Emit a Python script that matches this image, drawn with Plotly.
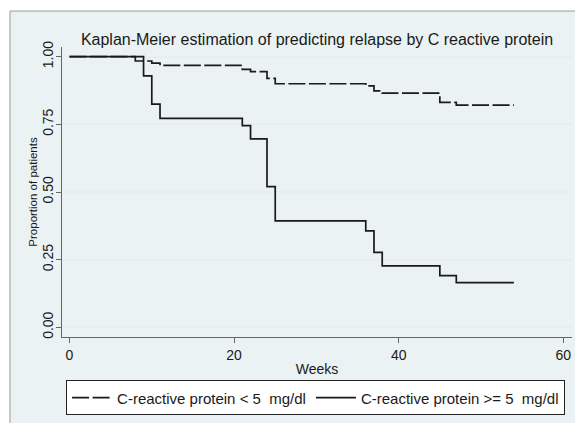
import plotly.graph_objects as go

# Data
weeks_low = [0, 8, 10, 11, 21, 22, 24, 25, 36, 37, 38, 45, 47, 54]
surv_low = [1.0, 0.984, 0.976, 0.968, 0.953, 0.945, 0.920, 0.900, 0.892, 0.874, 0.865, 0.831, 0.821, 0.821]

weeks_high = [0, 9, 10, 11, 21, 22, 24, 25, 36, 37, 38, 45, 47, 54]
surv_high = [1.0, 0.929, 0.825, 0.772, 0.745, 0.696, 0.520, 0.393, 0.356, 0.277, 0.227, 0.191, 0.165, 0.165]

name_low = "C-reactive protein &lt; 5\u00a0 mg/dl"
name_high = "C-reactive protein &gt;= 5\u00a0 mg/dl"

x_ticks = [0, 20, 40, 60]
y_ticks = [0.0, 0.25, 0.5, 0.75, 1.0]

FONT = "Liberation Sans, Arial, sans-serif"
INK = "#1a1a1a"
BG = "#EAF2F3"

fig = go.Figure()
fig.add_trace(go.Scatter(x=weeks_low, y=surv_low, mode="lines", name=name_low,
                         line=dict(shape="hv", color=INK, width=1.7, dash="17px,3.5px")))
fig.add_trace(go.Scatter(x=weeks_high, y=surv_high, mode="lines", name=name_high,
                         line=dict(shape="hv", color=INK, width=1.7)))

# outer graph region (light blue-gray with thin frame)
fig.add_shape(type="rect", xref="paper", yref="paper", layer="below",
              x0=-0.102, x1=1.04, y0=-0.35, y1=1.124,
              fillcolor=BG, line=dict(color="#9a9a9a", width=1))

fig.update_layout(
    width=575, height=423,
    margin=dict(l=62, r=3, t=47, b=86),
    paper_bgcolor="white",
    plot_bgcolor="white",
    font=dict(family=FONT, color=INK, size=14),
    title=dict(text="Kaplan-Meier estimation of predicting relapse by C reactive protein",
               x=0.5, xref="paper", xanchor="center", y=1 - 39 / 423, yref="container",
               yanchor="middle",
               font=dict(size=16, color=INK, family=FONT)),
    showlegend=True,
    legend=dict(orientation="h", x=0.008, xanchor="left", y=-0.21, yanchor="middle",
                bgcolor="white", bordercolor="#222222", borderwidth=1,
                font=dict(size=15, family=FONT, color=INK), traceorder="normal",
                itemwidth=40),
    xaxis=dict(range=[-0.91, 61.06], tickvals=x_ticks, ticktext=[str(v) for v in x_ticks],
               showgrid=False, zeroline=False, showline=True, linecolor="#666666", linewidth=1.2,
               ticks="outside", ticklen=5, tickcolor="#666666", tickwidth=1.2,
               tickfont=dict(size=14), title=dict(text="Weeks", font=dict(size=14), standoff=2)),
    yaxis=dict(range=[-0.0358, 1.0358], tickvals=y_ticks, tickformat=".2f",
               showgrid=True, gridcolor="#E6EEF0", gridwidth=1.5, zeroline=False,
               showline=True, linecolor="#666666", linewidth=1.2,
               ticks="outside", ticklen=5, tickcolor="#666666", tickwidth=1.2,
               tickangle=-90, tickfont=dict(size=14), ticklabelstandoff=-3,
               title=dict(text="Proportion of patients", font=dict(size=11.5), standoff=0)),
)

fig.write_html("out.html")
